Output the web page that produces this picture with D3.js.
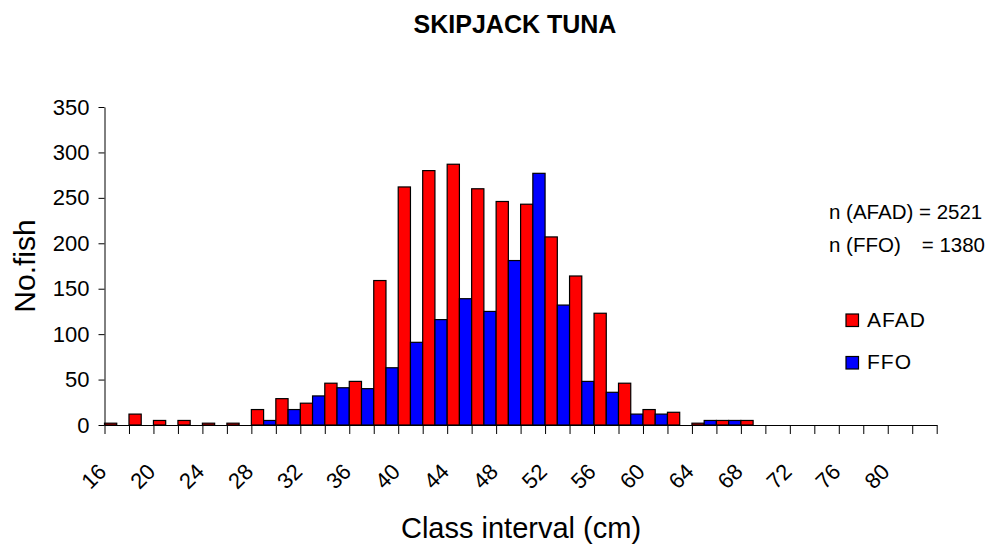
<!DOCTYPE html>
<html>
<head>
<meta charset="utf-8">
<script src="https://cdn.jsdelivr.net/npm/d3@7"></script>
<style>
  body { margin: 0; background: #fff; }
  svg { display: block; font-family: "Liberation Sans", Arial, sans-serif; }
</style>
</head>
<body>
<svg id="chart"></svg>
<script>
// size classes in cm (every 2 cm)
var classes = d3.range(16, 84, 2);
var afad = [2, 12, 5, 5, 2, 2, 17, 29, 24, 46, 48, 159, 262, 280, 287, 260, 246, 243, 207, 164,
            123, 46, 17, 14, 2, 5, 5, 0, 0, 0, 0, 0, 0, 0];
var ffo  = [0, 0, 0, 0, 0, 0, 5, 17, 32, 41, 40, 63, 91, 116, 139, 125, 181, 277, 132, 48,
            36, 12, 12, 0, 5, 5, 0, 0, 0, 0, 0, 0, 0, 0];
var seriesNames = ["AFAD", "FFO"];
var seriesColors = ["#ff0000", "#0000ff"];
var totals = [2521, 1380];
var yTicks = [0, 50, 100, 150, 200, 250, 300, 350];

var width = 994, height = 549;
var plotLeft = 104.5, plotRight = 936.7, plotTop = 107, plotBottom = 425;

var svg = d3.select("#chart").attr("width", width).attr("height", height);

var x = d3.scaleBand().domain(classes).range([plotLeft, plotRight]).padding(0);
var sub = d3.scaleBand().domain(seriesNames).range([0, x.bandwidth()]).padding(0);
var y = d3.scaleLinear().domain([0, 350]).range([plotBottom, plotTop]);

// bars
var rows = [];
classes.forEach(function(c, i) {
  rows.push({c: c, s: "AFAD", v: afad[i]});
  rows.push({c: c, s: "FFO", v: ffo[i]});
});

svg.append("g").selectAll("rect")
  .data(rows.filter(function(d) { return d.v > 0; }))
  .enter().append("rect")
  .attr("x", function(d) { return x(d.c) + sub(d.s); })
  .attr("y", function(d) { return y(d.v); })
  .attr("width", sub.bandwidth())
  .attr("height", function(d) { return y(0) - y(d.v); })
  .attr("fill", function(d) { return seriesColors[seriesNames.indexOf(d.s)]; })
  .attr("stroke", "#000")
  .attr("stroke-width", 1.2);

// y axis
var yAxis = d3.axisLeft(y).tickValues(yTicks).tickSize(6).tickSizeOuter(0).tickPadding(9);
var gy = svg.append("g").attr("transform", "translate(" + plotLeft + ",0)").call(yAxis);
gy.selectAll("text").attr("font-size", 22).attr("fill", "#000");
gy.attr("font-family", null).attr("font-size", null);
gy.selectAll("line, path").attr("stroke", "#000");

// x axis: ticks at class boundaries
var xi = d3.scaleLinear().domain([0, classes.length]).range([plotLeft, plotRight]);
var xAxis = d3.axisBottom(xi).tickValues(d3.range(classes.length + 1)).tickSize(9)
  .tickSizeOuter(0).tickFormat("");
var gx = svg.append("g").attr("transform", "translate(0," + plotBottom + ")").call(xAxis);
gx.selectAll("line, path").attr("stroke", "#000");

// rotated class labels, every other class
svg.append("g").selectAll("text")
  .data(classes.filter(function(c, i) { return i % 2 === 0; }))
  .enter().append("text")
  .attr("transform", function(c) {
    return "translate(" + (x(c) + x.bandwidth() / 2 - 9) + ",473) rotate(-45)";
  })
  .attr("text-anchor", "end")
  .attr("font-size", 22)
  .text(function(c) { return c; });

// titles
svg.append("text").attr("x", 515).attr("y", 33).attr("text-anchor", "middle")
  .attr("font-size", 25).attr("font-weight", "bold").text("SKIPJACK TUNA");
svg.append("text").attr("transform", "translate(35,266) rotate(-90)")
  .attr("text-anchor", "middle").attr("font-size", 30).text("No.fish");
svg.append("text").attr("x", 521).attr("y", 538).attr("text-anchor", "middle")
  .attr("font-size", 29).text("Class interval (cm)");

// sample sizes
svg.append("text").attr("x", 829).attr("y", 219).attr("font-size", 20.5)
  .text("n (" + seriesNames[0] + ") = " + totals[0]);
svg.append("text").attr("x", 829).attr("y", 252).attr("font-size", 20.5)
  .text("n (" + seriesNames[1] + ")");
svg.append("text").attr("x", 985).attr("y", 252).attr("font-size", 20.5)
  .attr("text-anchor", "end").text("= " + totals[1]);

// legend
var lg = svg.append("g").selectAll("g").data(seriesNames).enter().append("g")
  .attr("transform", function(d, i) { return "translate(846," + (314 + i * 42.5) + ")"; });
lg.append("rect").attr("width", 12.5).attr("height", 12.5)
  .attr("fill", function(d, i) { return seriesColors[i]; })
  .attr("stroke", "#000").attr("stroke-width", 1.2);
lg.append("text").attr("x", 21).attr("y", 12.8).attr("font-size", 21)
  .attr("letter-spacing", 1)
  .text(function(d) { return d; });
</script>
</body>
</html>
